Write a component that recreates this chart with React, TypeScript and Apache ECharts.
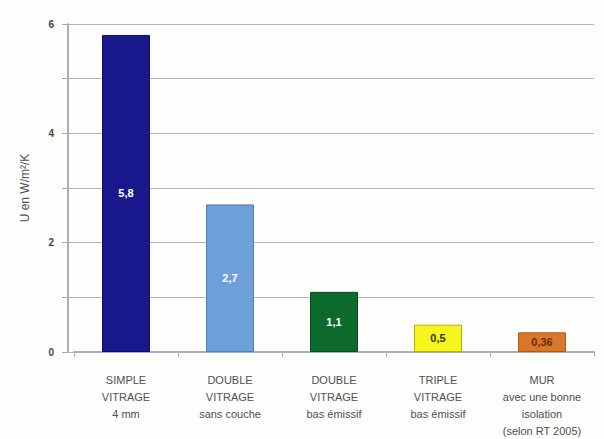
import React, { useEffect, useRef } from "react";
import * as echarts from "echarts";

const categories = [
  "SIMPLE\nVITRAGE\n4 mm",
  "DOUBLE\nVITRAGE\nsans couche",
  "DOUBLE\nVITRAGE\nbas émissif",
  "TRIPLE\nVITRAGE\nbas émissif",
  "MUR\navec une bonne\nisolation\n(selon RT 2005)",
];
const values = [5.8, 2.7, 1.1, 0.5, 0.36];
const valueLabels = ["5,8", "2,7", "1,1", "0,5", "0,36"];
const yAxisName = "U en W/m²/K";

const barColors = ["#18188c", "#6f9fd9", "#0b6a2c", "#f6f41e", "#d9782c"];
const borderColors = ["#10106a", "#4f7fb8", "#064d1e", "#b8b000", "#b05a18"];
const labelColors = ["#ffffff", "#ffffff", "#ffffff", "#333300", "#6a2a00"];

export default function App() {
  const ref = useRef<HTMLDivElement>(null);
  useEffect(() => {
    if (!ref.current) return;
    const chart = echarts.init(ref.current, null, { renderer: "svg" });
    chart.setOption({
      animation: false,
      backgroundColor: "#fdfdfb",
      textStyle: { fontFamily: "Liberation Sans, Arial, sans-serif" },
      grid: { left: 74, right: 10, top: 24, bottom: 85 },
      xAxis: {
        type: "category",
        data: categories,
        axisLine: { lineStyle: { color: "#a8b0bc", width: 2 } },
        axisTick: { show: true, length: 5, lineStyle: { color: "#a8b0bc" } },
        axisLabel: {
          color: "#505050",
          fontSize: 11,
          lineHeight: 17,
          margin: 19,
          interval: 0,
          align: "center",
        },
      },
      yAxis: [
        {
          type: "value",
          min: 0,
          max: 6,
          interval: 1,
          offset: 6,
          name: yAxisName,
          nameLocation: "middle",
          nameRotate: 90,
          nameGap: 37,
          nameTextStyle: { color: "#505050", fontSize: 12 },
          axisLine: { show: true, lineStyle: { color: "#b0b0b0", width: 2 } },
          axisTick: { show: true, length: 6, lineStyle: { color: "#a8a8a8" } },
          axisLabel: {
            color: "#444",
            fontSize: 10,
            fontWeight: "bold",
            margin: 14,
            formatter: (v: number) => (v % 2 === 0 ? String(v) : ""),
          },
          splitLine: { show: true, lineStyle: { color: "#b4b4b4", width: 1 } },
        },
        {
          type: "value",
          position: "left",
          min: 0,
          max: 6,
          interval: 1,
          offset: 0,
          axisLine: { show: false },
          axisTick: { show: true, length: 6, lineStyle: { color: "#b4b4b4" } },
          axisLabel: { show: false },
          splitLine: { show: false },
        },
      ],
      series: [
        {
          type: "bar",
          yAxisIndex: 0,
          barWidth: 48,
          data: values.map((v, i) => ({
            value: v,
            itemStyle: {
              color: barColors[i],
              borderColor: borderColors[i],
              borderWidth: 1,
            },
            label: {
              show: true,
              position: "inside",
              formatter: valueLabels[i],
              color: labelColors[i],
              fontSize: 11,
              fontWeight: "bold",
            },
          })),
        },
      ],
    });
    return () => chart.dispose();
  }, []);
  return (
    <div
      ref={ref}
      style={{ position: "fixed", left: 0, top: 0, width: 604, height: 439 }}
    />
  );
}
